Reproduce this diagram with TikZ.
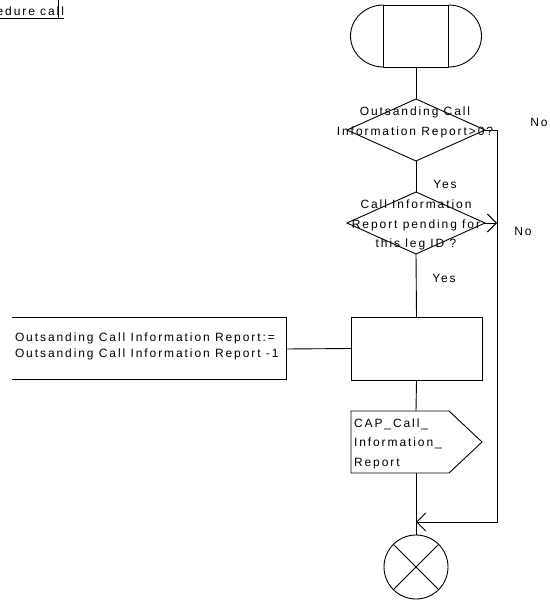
\documentclass[tikz,border=0pt]{standalone}
\usepackage{fontspec}
\setmainfont{Liberation Sans}[LetterSpace=16]
\usetikzlibrary{shapes.geometric,arrows.meta}
\begin{document}
\begin{tikzpicture}[x=1pt,y=1pt,
  every node/.style={inner sep=0pt, outer sep=0pt},
  box/.style={draw, line width=0.9pt},
  flow/.style={line width=0.9pt},
  txt/.style={font=\fontsize{12}{19.5}\selectfont, align=center},
  ltxt/.style={font=\fontsize{12}{19.5}\selectfont, align=left},
  ctxt/.style={font=\fontsize{12}{16}\selectfont, align=left},
  decision/.style={draw, diamond, minimum width=138pt, minimum height=62pt, line width=0.9pt},
  barb/.style={-{Straight Barb[length=9pt,width=18pt]}}
]
\useasboundingbox (0,0) rectangle (549,-601);

% procedure call fragment (top left)
\node[anchor=base east, font=\fontsize{12}{14}\selectfont] (proc) at (64,-16) {Procedure call};
\coordinate (ulL) at (0,-18.5);
\coordinate (ulR) at (64,-18.5);
\draw[line width=0.7pt] (ulL) -- (ulR);
\coordinate (vtT) at (58,0);
\coordinate (vtB) at (58,-18.5);
\draw[line width=0.8pt] (vtT) -- (vtB);

% start symbol
\node[box, minimum width=65pt, minimum height=62pt] (start) at (416,-36) {};
\draw[flow] (start.north west) arc[start angle=90, end angle=270, x radius=33pt, y radius=31pt];
\draw[flow] (start.south east) arc[start angle=-90, end angle=90, x radius=33pt, y radius=31pt];

% decisions
\node[decision] (d1) at (416,-130) {};
\node[txt] (d1t) at (415,-122.5) {Outsanding Call\\Information Report>0?};
\node[decision] (d2) at (416,-223) {};
\node[txt] (d2t) at (416,-225) {Call Information\\Report pending for\\this leg ID ?};

% task
\node[box, minimum width=131pt, minimum height=63pt] (task) at (416.5,-348.5) {};

% comment box
\coordinate (cTL) at (12,-317);
\coordinate (cTR) at (286,-317);
\coordinate (cBR) at (286,-379);
\coordinate (cBL) at (12,-379);
\coordinate (cE) at (286,-349);
\draw[flow] (cTL) -- (cTR) -- (cBR) -- (cBL);
\node[ctxt, anchor=west] (ct) at (15,-346) {Outsanding Call Information Report:=\\Outsanding Call Information Report -1};

% output signal
\coordinate (o1) at (351,-411);
\coordinate (o2) at (449,-411);
\coordinate (o3) at (482,-442);
\coordinate (o4) at (449,-473);
\coordinate (o5) at (351,-473);
\coordinate (otop) at (416,-411);
\coordinate (obot) at (416,-473);
\draw[flow] (o1) -- (o2) -- (o3) -- (o4) -- (o5) -- cycle;
\node[ltxt, anchor=north west] (ot) at (354,-418.5) {CAP\_Call\_\\Information\_\\Report};

% stop
\node[draw, circle, minimum size=64pt, line width=0.9pt] (stop) at (416,-567) {};
\draw[flow] (stop.north east) -- (stop.south west);
\draw[flow] (stop.north west) -- (stop.south east);

% connectors
\coordinate (rt) at (497,-130);
\coordinate (rb) at (497,-522);
\coordinate (m) at (416,-522);
\coordinate (r2) at (497,-223);
\draw[flow] (start.south) -- (d1.north);
\draw[flow] (d1.south) -- (d2.north);
\draw[flow] (d2.south) -- (task.north);
\draw[flow] (task.south) -- (otop);
\draw[flow] (obot) -- (stop.north);
\draw[flow] (task.west) -- (cE);
\draw[flow,barb] (d1.east) -- (rt) -- (rb) -- (m);
\draw[flow,barb] (d2.east) -- (r2);

% labels
\node[txt] (y1) at (445,-184) {Yes};
\node[txt] (y2) at (444,-278) {Yes};
\node[txt] (n1) at (539,-122) {No};
\node[txt] (n2) at (523,-231) {No};
\end{tikzpicture}
\end{document}
